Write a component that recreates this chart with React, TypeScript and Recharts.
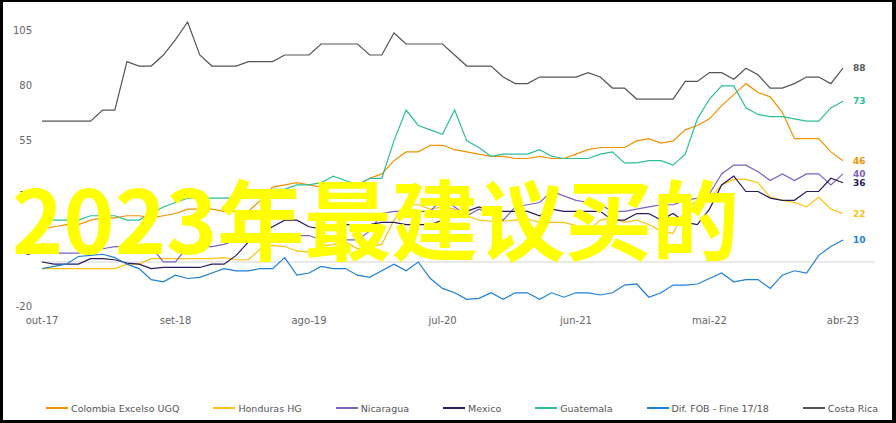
import React from "react";
import { LineChart, Line, XAxis, YAxis, ReferenceLine, LabelList } from "recharts";

const months = ["out-17","nov-17","dez-17","jan-18","fev-18","mar-18","abr-18","mai-18","jun-18","jul-18","ago-18","set-18","out-18","nov-18","dez-18","jan-19","fev-19","mar-19","abr-19","mai-19","jun-19","jul-19","ago-19","set-19","out-19","nov-19","dez-19","jan-20","fev-20","mar-20","abr-20","mai-20","jun-20","jul-20","ago-20","set-20","out-20","nov-20","dez-20","jan-21","fev-21","mar-21","abr-21","mai-21","jun-21","jul-21","ago-21","set-21","out-21","nov-21","dez-21","jan-22","fev-22","mar-22","abr-22","mai-22","jun-22","jul-22","ago-22","set-22","out-22","nov-22","dez-22","jan-23","fev-23","mar-23","abr-23"];

const colombia = [15,16,17,17,19,20,20,21,21,20,21,22,24,24,24,23,23,23,28,34,35,36,35,34,34,34,35,38,40,46,50,50,53,53,51,50,49,48,48,47,47,48,47,47,49,51,52,52,52,55,56,54,55,60,62,65,71,76,81,77,75,68,56,56,56,50,46];
const honduras = [-3,-3,-3,-3,-3,-3,-3,-1,-1,1.5,1.5,1.5,1.5,1.5,1.5,2,1,1,6,7.5,7,5,4.5,7,8,9,6,7,8,19,26,26,24,25,24,21,19,18.5,18.5,19,19.5,18,18,18,16.5,14,19,20,18,19,17,14,13,24,28,29,35,37.5,37.5,36,29.5,28,27,25,29.5,24,22];
const nicaragua = [4,4,4,4,6,6,7,7,7,7,0,0,7,7,7,8,10,12,12,12,12,12,12,10,10,10,10,14,22,23,23,23,23,29,25,21,24,22,19,25,26,27,32,30,28,27,26,23,23,24,25,26,26,28,29,31,40,44,44,41,37,40,37,40,40,35,40];
const mexico = [0,-1,-1,-1,1.5,1.5,1,-0.5,-1,-3,-2.5,-2.5,-2.5,-2.5,-1,-1,3,9,13,16,19,19,16,15,16,17,17,17,18,18,17,17,17,19,21,23,25,23,23,23,23,21,24,23,23,23,23,19,19,22,22,19,22,18,17,24,35,39,32,32,29,28,28,32,32,38,36];
const guatemala = [20,19,19,19,21,21,21,19,19,22,25,27,29,29,29,29,29,29,31,33,33,35,35,36,39,37,35,38,38,55,69,62,60,58,69,55,52,48,49,49,49,51,48,47,47,47,49,50,45,45,46,46,44,49,65,74,80,80,70,67,66,66,65,64,64,70,73];
const difFob = [-3,-2,-1,2.5,3,3.5,2,-1,-3,-8,-9,-6,-7.5,-7,-5,-3,-4,-4,-3,-3,2,-6,-5,-2,-3,-3,-6,-7,-4,-1,-4,0,-7.5,-12,-14,-17,-16.5,-14,-17,-14,-14,-17,-14,-16,-14,-14,-15,-14,-10.5,-10,-16,-14,-10.5,-10.5,-10,-7.5,-5,-9,-8,-8,-12,-6,-4,-5,3,7,10];
const costaRica = [64,64,64,64,64,69,69,91,89,89,94,101,109,94,89,89,89,91,91,91,94,94,94,99,99,99,99,94,94,104,99,99,99,99,94,89,89,89,84,81,81,84,84,84,84,86,84,79,79,74,74,74,74,82,82,86,86,83,88,85,79,79,81,84,84,81,88];

const yTicks = [-20, 5, 30, 55, 80, 105];

const seriesDefs = [
  { key: "colombia", name: "Colombia Excelso UGQ", color: "#F39200", values: colombia },
  { key: "honduras", name: "Honduras HG", color: "#FFC20E", values: honduras },
  { key: "nicaragua", name: "Nicaragua", color: "#7B62C2", values: nicaragua },
  { key: "mexico", name: "Mexico", color: "#2A1B5E", values: mexico },
  { key: "guatemala", name: "Guatemala", color: "#2DBE9B", values: guatemala },
  { key: "difFob", name: "Dif. FOB - Fine 17/18", color: "#1F80D8", values: difFob },
  { key: "costaRica", name: "Costa Rica", color: "#555555", values: costaRica },
];

const data = months.map((m, i) => {
  const row: Record<string, any> = { month: m };
  seriesDefs.forEach((s) => (row[s.key] = s.values[i]));
  return row;
});

const FONT = "'DejaVu Sans', sans-serif";
const lastIndex = months.length - 1;

const makeEndLabel = (color: string) => (props: any) => {
  const { x, y, index, value } = props;
  if (index !== lastIndex) return null;
  return (
    <text x={x + 10} y={y} dy="0.35em" fill={color} fontSize={9} fontWeight="bold" fontFamily={FONT}>
      {Math.round(value)}
    </text>
  );
};

export default function App() {
  return (
    <div style={{ position: "absolute", left: 0, top: 0, width: 896, height: 423, background: "#000" }}>
      <div style={{ position: "absolute", left: 3, top: 2, width: 889, height: 418, background: "#fff" }} />
      <div style={{ position: "absolute", left: 0, top: 0 }}>
        <LineChart width={896} height={423} data={data} margin={{ top: 22, right: 21, bottom: 87, left: 0 }}>
          <XAxis
            dataKey="month"
            interval={10}
            tickLine={false}
            axisLine={false}
            height={30}
            tickMargin={5}
            padding={{ left: 2, right: 32 }}
            tick={{ fontSize: 10, fill: "#666", fontFamily: FONT }}
          />
          <YAxis
            domain={[-20, 105]}
            ticks={yTicks}
            width={40}
            tickLine={false}
            axisLine={false}
            tick={{ fontSize: 10, fill: "#666", fontFamily: FONT }}
          />
          <ReferenceLine y={0} stroke="#d4d4d4" strokeWidth={1} />
          {seriesDefs.map((s) => (
            <Line
              key={s.key}
              type="linear"
              dataKey={s.key}
              name={s.name}
              stroke={s.color}
              strokeWidth={1.2}
              dot={false}
              isAnimationActive={false}
            >
              <LabelList dataKey={s.key} content={makeEndLabel(s.color)} />
            </Line>
          ))}
        </LineChart>
      </div>
      <svg width={896} height={423} style={{ position: "absolute", left: 0, top: 0, pointerEvents: "none" }}>
        <text x={12} y={254} fill="#FFFF00" fontSize={87} fontWeight="bold" fontFamily="'Noto Sans CJK SC', sans-serif">
          2023年最建议买的
        </text>
      </svg>
      <div
        style={{
          position: "absolute",
          left: 46,
          top: 402,
          display: "flex",
          alignItems: "center",
          gap: 34,
          fontFamily: FONT,
          fontSize: 9.5,
          color: "#555",
          whiteSpace: "nowrap",
          height: 12,
        }}
      >
        {seriesDefs.map((s) => (
          <div key={s.key} style={{ display: "flex", alignItems: "center" }}>
            <div style={{ width: 22, height: 1.3, background: s.color, marginRight: 3 }} />
            <span>{s.name}</span>
          </div>
        ))}
      </div>
    </div>
  );
}
